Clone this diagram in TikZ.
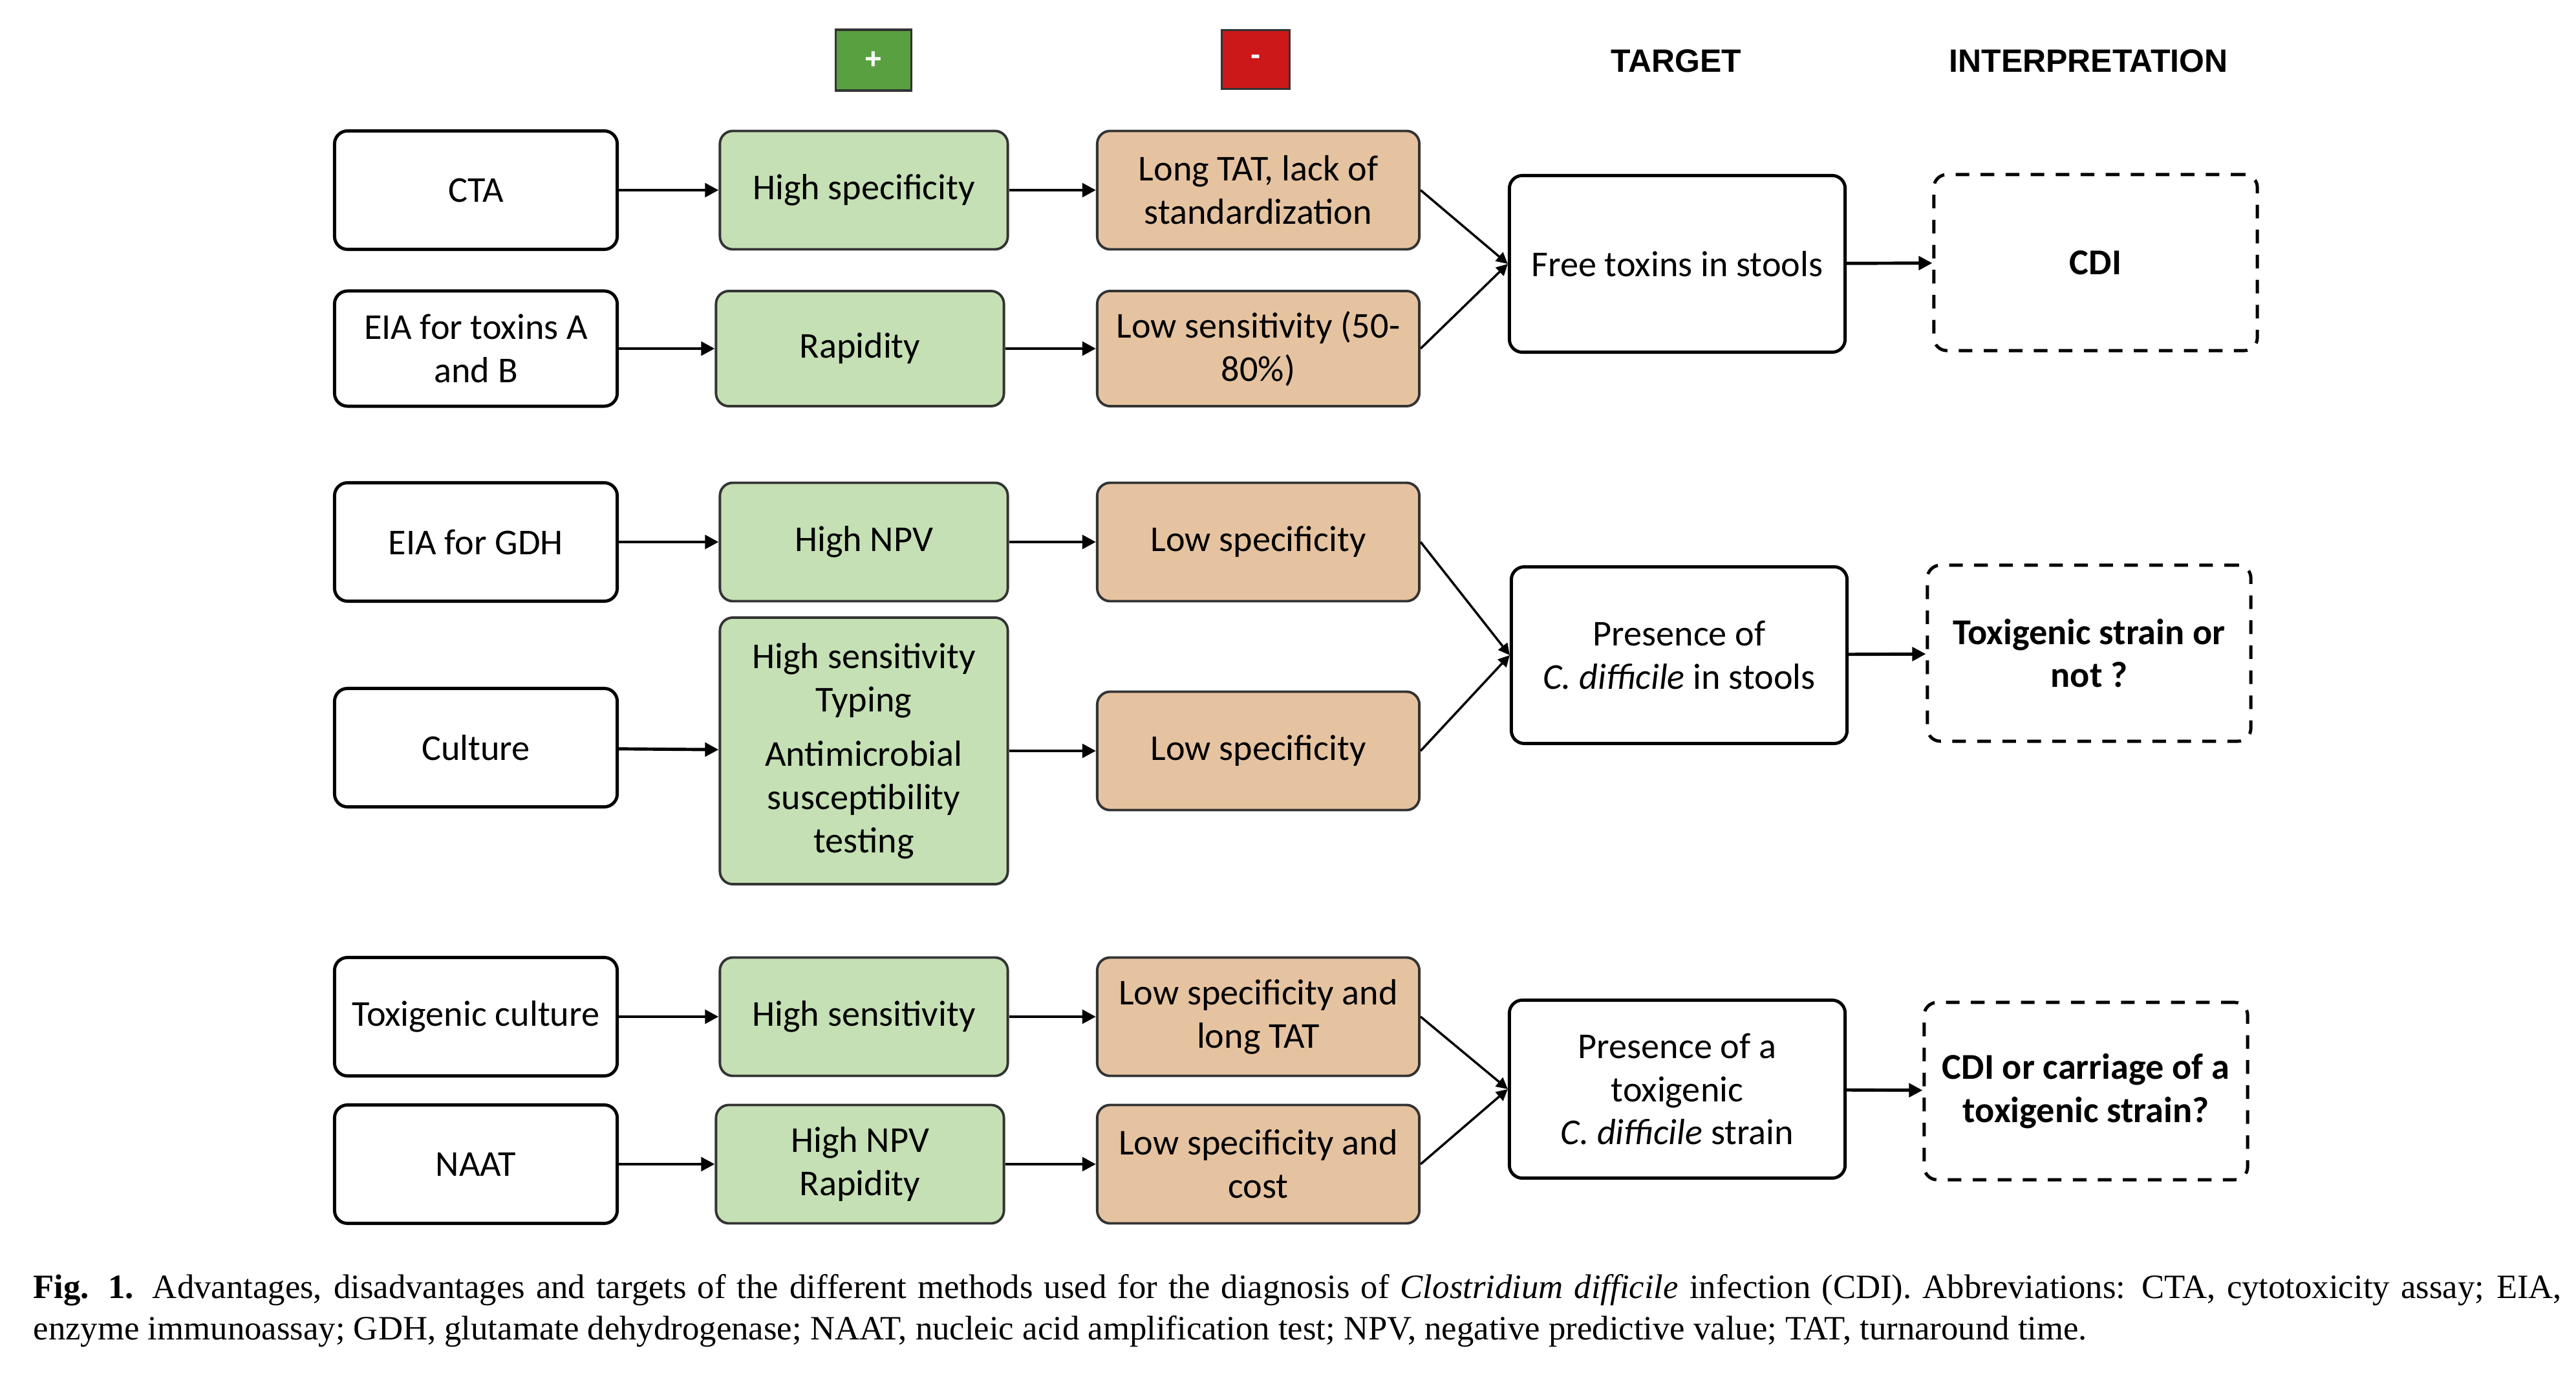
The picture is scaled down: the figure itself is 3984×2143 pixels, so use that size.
\documentclass[tikz,border=0pt]{standalone}
\usepackage{fontspec}
\setmainfont{Carlito}
\newfontfamily\headfont{Liberation Sans}
\newfontfamily\capfont{Liberation Serif}
\usetikzlibrary{arrows.meta}
\definecolor{plusgreen}{HTML}{58A040}
\definecolor{minusred}{HTML}{CC1818}
\definecolor{advgreen}{HTML}{C5E0B4}
\definecolor{disorange}{HTML}{E6C3A0}
\definecolor{edgegray}{HTML}{333333}
\tikzset{
  box/.style={draw,rounded corners=0.2cm,line width=1.4pt,align=center,inner sep=2pt,font=\fontsize{16}{19}\selectfont},
  method/.style={box,minimum width=4.37cm,minimum height=1.83cm},
  pro/.style={box,draw=edgegray,line width=1.1pt,fill=advgreen,minimum width=4.45cm,minimum height=1.83cm},
  con/.style={box,draw=edgegray,line width=1.1pt,fill=disorange,minimum width=4.98cm,minimum height=1.83cm},
  target/.style={box,minimum width=5.19cm,minimum height=2.73cm},
  interp/.style={box,dash pattern=on 6pt off 5pt,minimum width=5cm,minimum height=2.72cm,font=\fontsize{16}{19}\selectfont\bfseries},
  sign/.style={draw=edgegray,line width=1pt,text=white,font=\headfont\bfseries\fontsize{13}{13}\selectfont},
  head/.style={font=\headfont\bfseries\fontsize{14.2}{14.2}\selectfont},
  arr/.style={line width=1.4pt,-{Triangle[length=6pt,width=6pt]}},
  merge/.style={line width=1pt,-{Triangle[length=5pt,width=5pt]}}
}
\begin{document}
\begin{tikzpicture}[x=0.01cm,y=-0.01cm]
    \useasboundingbox (0,0) rectangle (3984,2143);
    % column heads
    \node[sign,fill=plusgreen,minimum width=1.17cm,minimum height=0.94cm] (plus) at (1351,93) {+};
    \node[sign,fill=minusred,minimum width=1.05cm,minimum height=0.91cm] (minus) at (1942,92) {-};
    \node[head] (targethead) at (2592,94) {TARGET};
    \node[head] (interphead) at (3230,94) {INTERPRETATION};
    % methods
    \node[method] (cta) at (736,294) {CTA};
    \node[method,minimum height=1.78cm] (eiaab) at (736,539) {EIA for toxins A\\and B};
    \node[method] (eiagdh) at (736,838) {EIA for GDH};
    \node[method] (culture) at (736,1156) {Culture};
    \node[method] (toxculture) at (736,1572) {Toxigenic culture};
    \node[method] (naat) at (736,1800) {NAAT};
    % advantages
    \node[pro] (ctapro) at (1336,294) {High specificity};
    \node[pro,minimum height=1.78cm] (eiaabpro) at (1330,539) {Rapidity};
    \node[pro] (eiagdhpro) at (1336,838) {High NPV};
    \node[pro,minimum height=4.12cm] (culturepro) at (1336,1161) {High sensitivity\\Typing\\[5pt]Antimicrobial\\susceptibility\\testing};
    \node[pro] (toxculturepro) at (1336,1572) {High sensitivity};
    \node[pro] (naatpro) at (1330,1800) {High NPV\\Rapidity};
    % disadvantages
    \node[con] (ctacon) at (1946,294) {Long TAT, lack of\\standardization};
    \node[con,minimum height=1.78cm] (eiaabcon) at (1946,539) {Low sensitivity (50-\\80\%)};
    \node[con] (eiagdhcon) at (1946,838) {Low specificity};
    \node[con] (culturecon) at (1946,1161) {Low specificity};
    \node[con] (toxculturecon) at (1946,1572) {Low specificity and\\long TAT};
    \node[con] (naatcon) at (1946,1800) {Low specificity and\\cost};
    % targets
    \node[target] (toxins) at (2594,408) {Free toxins in stools};
    \node[target] (presence) at (2597,1013) {Presence of\\\textit{C. difficile} in stools};
    \node[target,minimum height=2.75cm] (toxstrain) at (2594,1684) {Presence of a\\toxigenic\\\textit{C. difficile} strain};
    % interpretation
    \node[interp] (cdi) at (3241,406) {CDI};
    \node[interp] (strain) at (3231,1010) {Toxigenic strain or\\not ?};
    \node[interp,minimum height=2.74cm] (carriage) at (3226,1687) {CDI or carriage of a\\toxigenic strain?};
    % connectors
    \foreach \m in {cta,eiaab,eiagdh,culture,toxculture,naat}{
      \draw[arr] (\m) -- (\m pro);
      \draw[arr] (\m pro.east |- \m con) -- (\m con);
    }
    \draw[merge] (ctacon.east) -- (toxins.west);
    \draw[merge] (eiaabcon.east) -- (toxins.west);
    \draw[merge] (eiagdhcon.east) -- (presence.west);
    \draw[merge] (culturecon.east) -- (presence.west);
    \draw[merge] (toxculturecon.east) -- (toxstrain.west);
    \draw[merge] (naatcon.east) -- (toxstrain.west);
    \draw[arr] (toxins) -- (cdi);
    \draw[arr] (presence) -- (strain);
    \draw[arr] (toxstrain) -- (carriage);
    % caption
    \node[anchor=north west,inner sep=0pt,text width=39.08cm,align=justify,font=\capfont\fontsize{15}{18.2}\selectfont] (caption) at (51,1970) {\textbf{Fig. 1.} Advantages, disadvantages and targets of the different methods used for the diagnosis of \textit{Clostridium difficile} infection (CDI). Abbreviations: CTA, cytotoxicity assay; EIA,\linebreak enzyme immunoassay; GDH, glutamate dehydrogenase; NAAT, nucleic acid amplification test; NPV, negative predictive value; TAT, turnaround time.};
\end{tikzpicture}
\end{document}
